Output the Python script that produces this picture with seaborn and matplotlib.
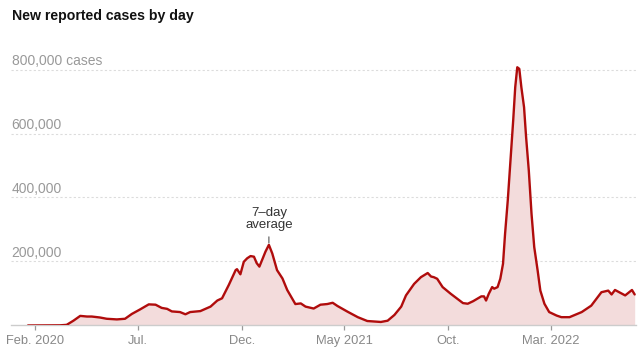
import matplotlib
matplotlib.use("Agg")
import matplotlib.pyplot as plt
import matplotlib.transforms as mtransforms
import seaborn as sns
import pandas as pd

# ---- data (7-day average of new reported cases) ----
dates = [
    "2020-01-21", "2020-03-08", "2020-03-18", "2020-03-28", "2020-04-07", "2020-04-17",
    "2020-04-24", "2020-05-06", "2020-05-16", "2020-05-31", "2020-06-12", "2020-06-22",
    "2020-07-04", "2020-07-17", "2020-07-27", "2020-08-05", "2020-08-13", "2020-08-20",
    "2020-09-01", "2020-09-09", "2020-09-16", "2020-10-01", "2020-10-16", "2020-10-26",
    "2020-11-02", "2020-11-12", "2020-11-22", "2020-11-24", "2020-11-29", "2020-12-04",
    "2020-12-09", "2020-12-14", "2020-12-19", "2020-12-23", "2020-12-27", "2021-01-01",
    "2021-01-05", "2021-01-10", "2021-01-15", "2021-01-22", "2021-01-30", "2021-02-06",
    "2021-02-18", "2021-02-26", "2021-03-05", "2021-03-17", "2021-03-27", "2021-04-06",
    "2021-04-14", "2021-04-21", "2021-05-06", "2021-05-21", "2021-06-04", "2021-06-24",
    "2021-07-04", "2021-07-14", "2021-07-24", "2021-07-31", "2021-08-12", "2021-08-22",
    "2021-09-01", "2021-09-06", "2021-09-10", "2021-09-15", "2021-09-23", "2021-10-05",
    "2021-10-23", "2021-10-30", "2021-11-07", "2021-11-19", "2021-11-23", "2021-11-26",
    "2021-11-30", "2021-12-05", "2021-12-08", "2021-12-13", "2021-12-17", "2021-12-21",
    "2021-12-24", "2021-12-28", "2022-01-01", "2022-01-05", "2022-01-08", "2022-01-11",
    "2022-01-14", "2022-01-17", "2022-01-21", "2022-01-24", "2022-01-28", "2022-02-01",
    "2022-02-05", "2022-02-10", "2022-02-14", "2022-02-20", "2022-02-27", "2022-03-10",
    "2022-03-17", "2022-03-29", "2022-04-16", "2022-04-30", "2022-05-15", "2022-05-25",
    "2022-05-30", "2022-06-04", "2022-06-19", "2022-06-29", "2022-07-03",
]
cases = [
    0, 500, 2000, 15000, 30000, 28000,
    28000, 25000, 21000, 19000, 21000, 36000,
    50000, 66000, 65000, 55000, 52000, 44000,
    42000, 35000, 42000, 45000, 59000, 78000,
    85000, 127000, 173000, 176000, 160000, 199000,
    210000, 217000, 215000, 195000, 184000, 210000,
    231000, 252000, 225000, 173000, 147000, 111000,
    67000, 69000, 59000, 53000, 65000, 67000,
    71000, 61000, 43000, 26000, 14000, 11000,
    15000, 33000, 59000, 94000, 130000, 151000,
    164000, 153000, 151000, 146000, 120000, 99000,
    70000, 68000, 76000, 91000, 91000, 78000,
    99000, 120000, 115000, 120000, 146000, 193000,
    286000, 391000, 516000, 641000, 745000, 807000,
    802000, 745000, 682000, 589000, 484000, 349000,
    245000, 172000, 109000, 68000, 42000, 31000,
    26000, 26000, 42000, 62000, 104000, 109000,
    97000, 111000, 94000, 111000, 97000,
]

tick_dates = ["2020-02-01", "2020-07-01", "2020-12-01", "2021-05-01", "2021-10-01", "2022-03-01"]
tick_labels = ["Feb. 2020", "Jul.", "Dec.", "May 2021", "Oct.", "Mar. 2022"]
y_grid = [200000, 400000, 600000, 800000]
y_labels = ["200,000", "400,000", "600,000", "800,000 cases"]
title = "New reported cases by day"
note = "7\u2013day\naverage"
note_date = "2021-01-10"

df = pd.DataFrame({"date": pd.to_datetime(dates), "cases": cases})

sns.set_theme(style="white")
plt.rcParams["font.family"] = ["Liberation Sans", "DejaVu Sans"]

LINE = "#b00c0c"
FILL = "#f3dcdc"

fig = plt.figure(figsize=(6.4, 3.56), dpi=100)
ax = fig.add_axes([0.0172, 0.0857, 0.9766, 0.764])

ax.fill_between(df["date"], 0, df["cases"], color=FILL, lw=0, zorder=1)
sns.lineplot(data=df, x="date", y="cases", color=LINE, lw=1.7, ax=ax, zorder=3)

ax.set_xlim(pd.Timestamp("2019-12-27"), pd.Timestamp("2022-07-05"))
ax.set_ylim(0, 850000)

# gridlines
for v in y_grid:
    ax.axhline(v, color="#dcdcdc", lw=0.8, ls=(0, (2, 2)), zorder=0)
trans = mtransforms.blended_transform_factory(ax.transAxes, ax.transData)
for v, lab in zip(y_grid, y_labels):
    ax.annotate(lab, xy=(0, v), xycoords=trans, xytext=(0.5, 3.5),
                textcoords="offset points", ha="left", va="baseline",
                fontsize=10, color="#999999")

ax.set_yticks([])
ax.set_xticks(pd.to_datetime(tick_dates))
ax.set_xticklabels(tick_labels)
ax.tick_params(axis="x", length=3.6, width=0.9, color="#999999", pad=3.5,
               labelsize=9.3, labelcolor="#888888", bottom=True)
ax.set_xlabel("")
ax.set_ylabel("")

for s in ["top", "right", "left"]:
    ax.spines[s].set_visible(False)
ax.spines["bottom"].set_color("#cccccc")
ax.spines["bottom"].set_linewidth(1.0)
ax.spines["bottom"].set_zorder(2)

peak = df.loc[df["date"] == pd.Timestamp(note_date), "cases"].iloc[0]
ax.annotate(note, xy=(pd.Timestamp(note_date), peak + 6000),
            xytext=(pd.Timestamp(note_date), peak + 44000),
            ha="center", va="bottom", fontsize=9.5, color="#333333", linespacing=1.0,
            arrowprops=dict(arrowstyle="-", color="#555555", lw=0.8,
                            shrinkA=2, shrinkB=0), zorder=4)

fig.text(12 / 640, 1 - 15.7 / 356, title, fontsize=10.2, fontweight="bold",
         color="#121212", ha="left", va="center")

fig.savefig("out.png", dpi=100, facecolor="white")
